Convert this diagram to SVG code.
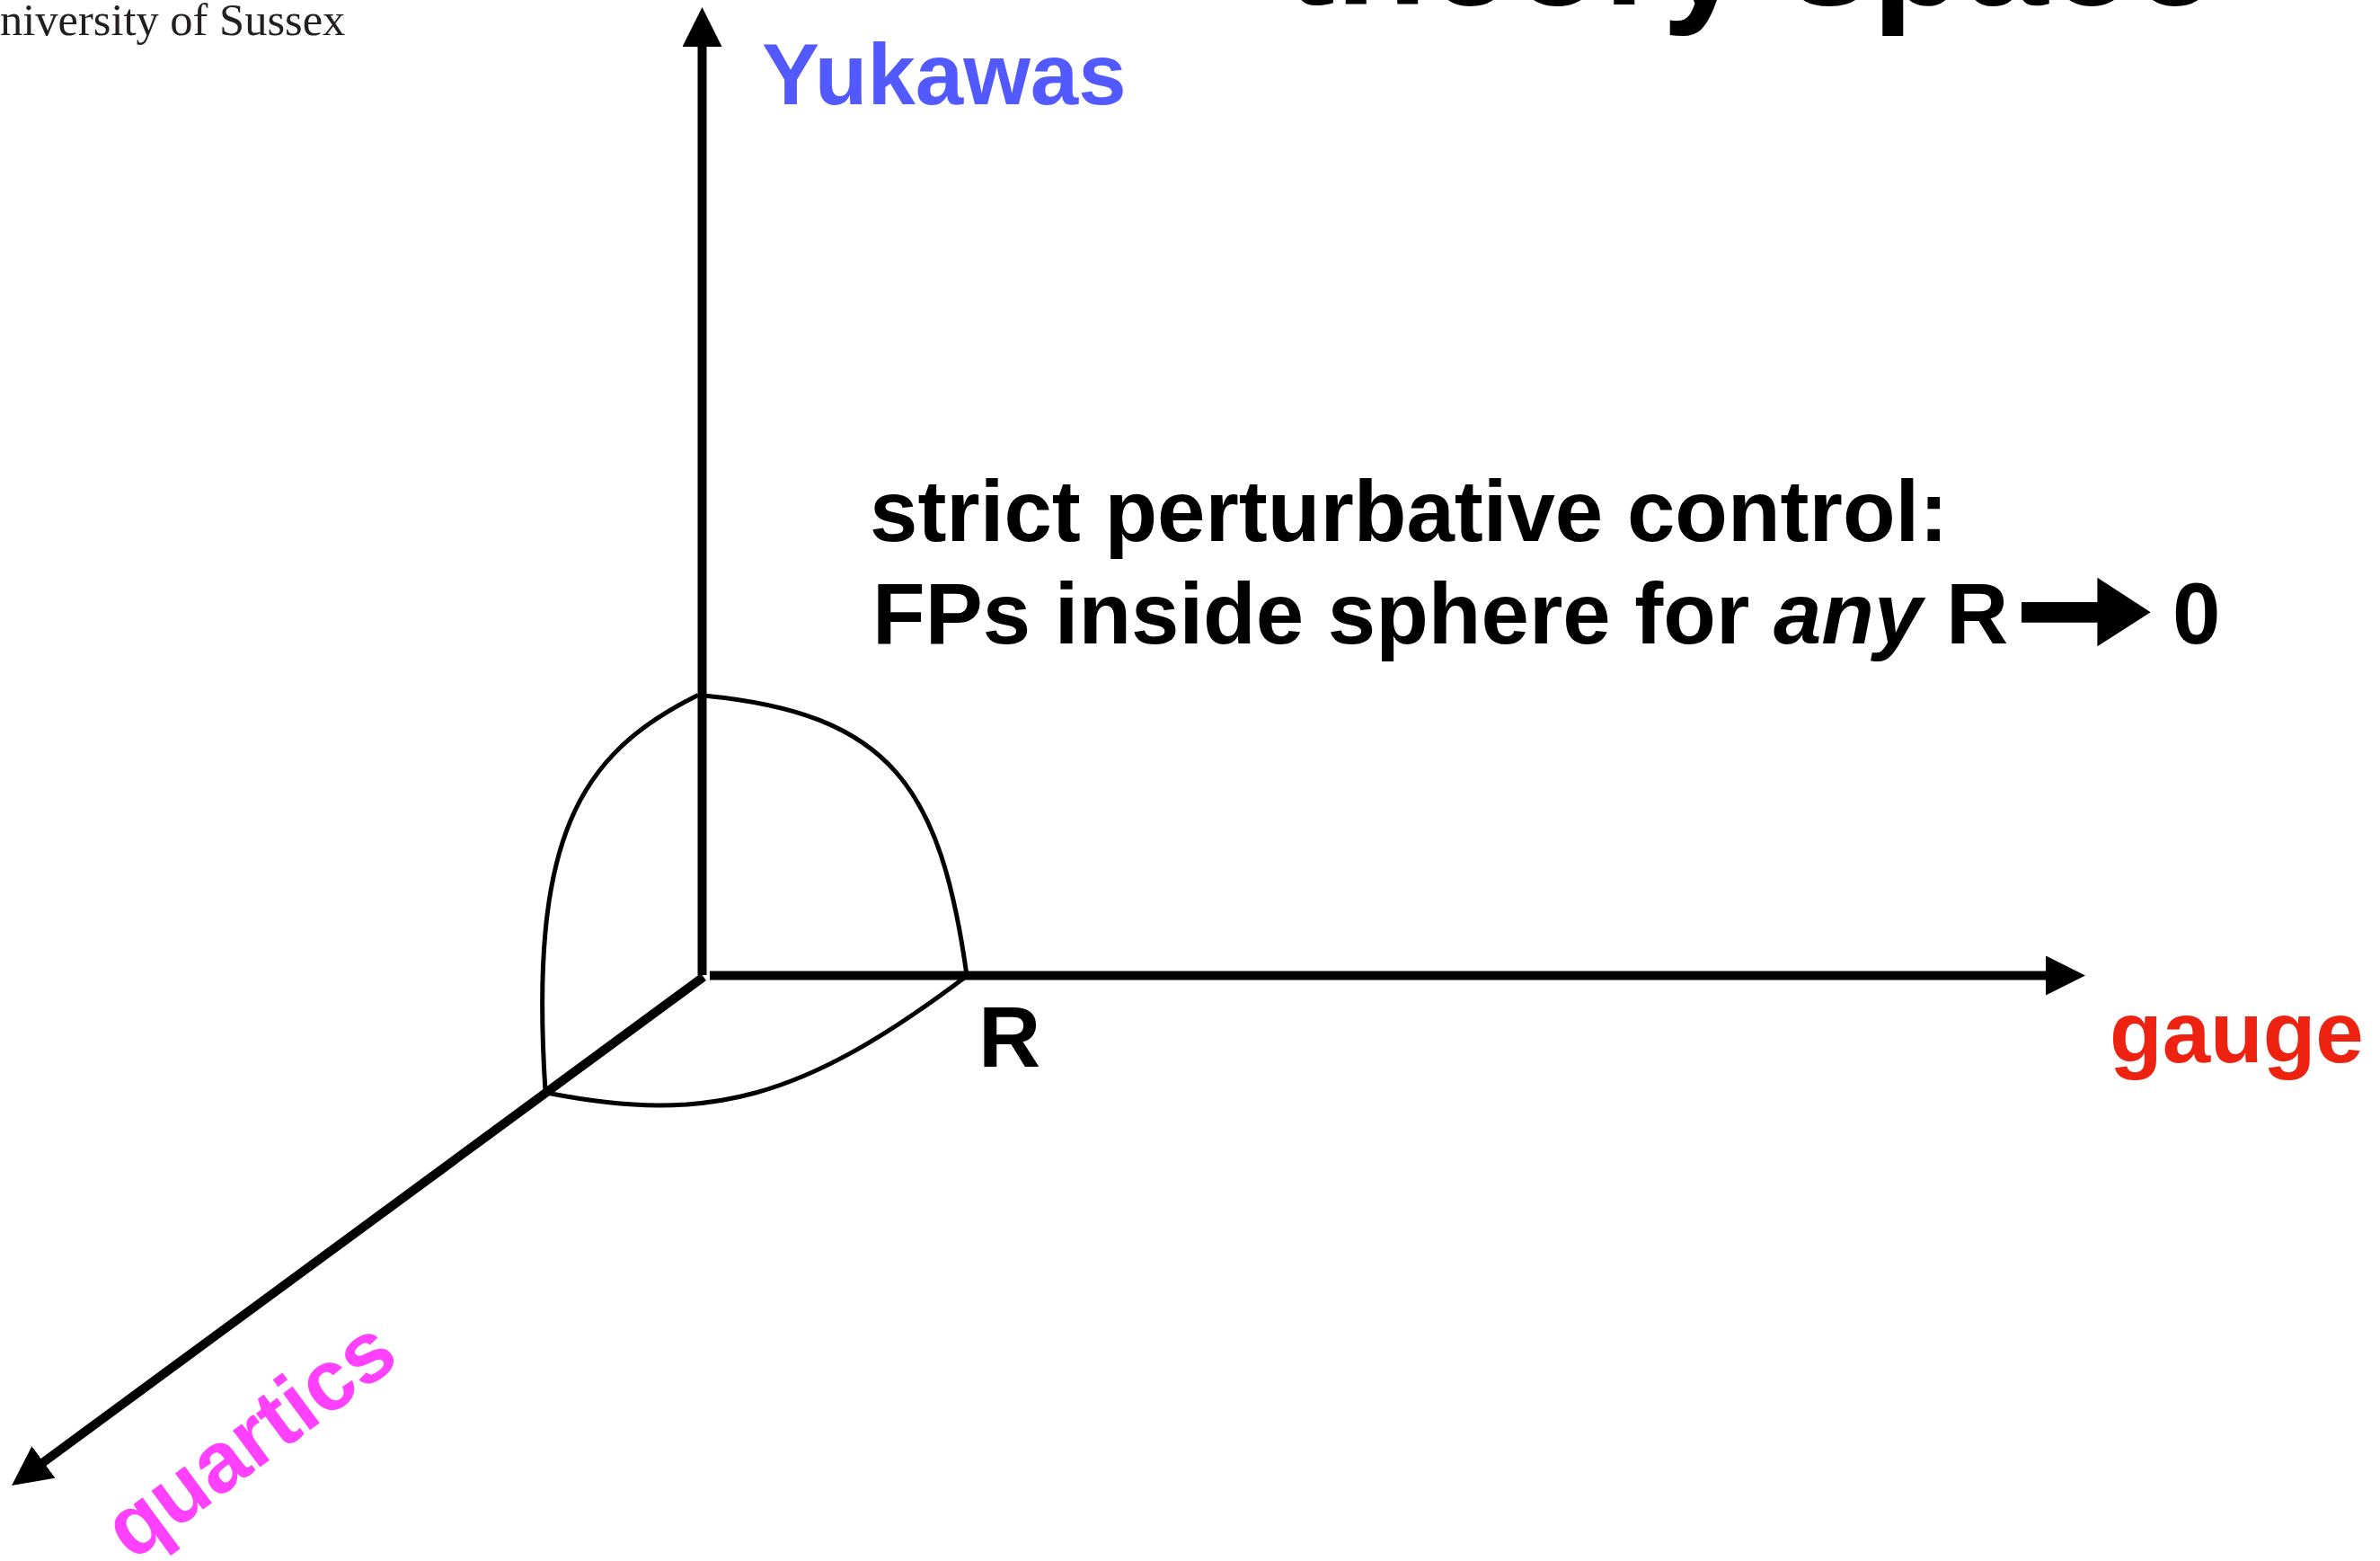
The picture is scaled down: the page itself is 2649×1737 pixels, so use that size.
<svg xmlns="http://www.w3.org/2000/svg" width="2649" height="1737" viewBox="0 0 2649 1737">
<style>
.lbl{font-family:"Liberation Sans",Arial,Helvetica,sans-serif;font-weight:bold;font-size:96px;}
.axis{stroke:#000;stroke-width:10;fill:none;stroke-linecap:butt;}
.arc{stroke:#000;stroke-width:5;fill:none;}
</style>
<defs>
<marker id="ah" markerUnits="userSpaceOnUse" markerWidth="44" markerHeight="44" viewBox="0 0 44 44" refX="30" refY="22" orient="auto">
<path d="M0,0 L44,22 L0,44 z" fill="#000"/>
</marker>
</defs>
<rect x="0" y="0" width="2649" height="1737" fill="#fff"/>
<g id="header">
<text x="0" y="39" font-family="Liberation Serif,'Times New Roman',serif" font-size="50.5" fill="#231F20">niversity of Sussex</text>
<text x="1430" y="5" class="lbl" style="font-size:168px">theory space</text>
</g>
<g id="connectors">
<line class="axis" x1="781.5" y1="1085" x2="781.5" y2="22" marker-end="url(#ah)"/>
<line class="axis" x1="790" y1="1085.5" x2="2307" y2="1085.5" marker-end="url(#ah)"/>
<line class="axis" x1="783" y1="1087" x2="24.3" y2="1644.7" marker-end="url(#ah)"/>
</g>
<g id="sphere">
<path class="arc" d="M783,774 C992,793.7 1046.8,877.1 1076,1085"/>
<path class="arc" d="M777,773.5 C642.4,840 589,934 607,1214"/>
<path class="arc" d="M1076,1086 C892.5,1224.5 787.8,1250.7 611,1216.5"/>
</g>
<g id="node-yukawas"><text class="lbl" x="848" y="116" fill="#5259FF">Yukawas</text></g>
<g id="node-gauge"><text class="lbl" x="2348" y="1182" fill="#EE2211">gauge</text></g>
<g id="node-quartics"><text class="lbl" text-anchor="middle" fill="#FF40FF" transform="translate(297,1627) rotate(-36.5)">quartics</text></g>
<g id="node-R"><text class="lbl" x="1089" y="1187">R</text></g>
<g id="note">
<text class="lbl" x="968" y="602">strict perturbative control:</text>
<text class="lbl" x="971" y="716">FPs inside sphere for <tspan font-style="italic">any</tspan> R</text>
<polygon points="2250,670 2334.4,670 2334.4,642.7 2393.7,681.3 2334.4,719.3 2334.4,692.7 2250,692.7" fill="#000"/>
<text class="lbl" x="2418" y="716">0</text>
</g>
</svg>
